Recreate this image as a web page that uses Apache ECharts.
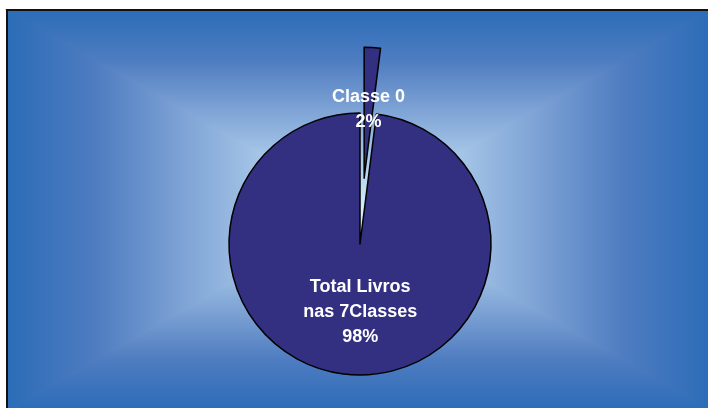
<!DOCTYPE html>
<html>
<head>
<meta charset="utf-8">
<script src="https://cdn.jsdelivr.net/npm/echarts@6/dist/echarts.min.js"></script>
<style>
  html, body { margin: 0; padding: 0; background: #fff; }
  #chart { width: 708px; height: 408px; }
</style>
</head>
<body>
<div id="chart"></div>
<script>
// dados
var categorias = ['Classe 0', 'Total Livros\nnas 7Classes'];
var valores = [2, 98];

var chart = echarts.init(document.getElementById('chart'));

// fundo: gradiente retangular (4 triângulos até ao centro)
var L = 7, T = 10, R = 712, B = 410, cx = (L + R) / 2, cy = (T + B) / 2;
function grad(x, y, x2, y2) {
	return new echarts.graphic.LinearGradient(x, y, x2, y2, [
		{ offset: 0, color: '#2b6cb8' },
		{ offset: 0.25, color: '#4e7cc0' },
		{ offset: 0.5, color: '#7ea3d5' },
		{ offset: 0.75, color: '#abcbea' },
		{ offset: 1, color: '#d4eefa' }
	]);
}
function tri(pts, g) {
	return { type: 'polygon', shape: { points: pts }, style: { fill: g, stroke: g, lineWidth: 1.2 }, silent: true, z: -9 };
}
var fundo = [
	tri([[L, T], [R, T], [cx, cy]], grad(0, 0, 0, 1)),
	tri([[L, B], [R, B], [cx, cy]], grad(0, 1, 0, 0)),
	tri([[L, T], [L, B], [cx, cy]], grad(0, 0, 1, 0)),
	tri([[R, T], [R, B], [cx, cy]], grad(1, 0, 0, 0)),
	{ type: 'rect', shape: { x: L, y: T, width: R - L, height: B - T }, style: { fill: null, stroke: '#111', lineWidth: 2 }, silent: true, z: -8 }
];

var dados = categorias.map(function (c, i) {
	return {
		name: c, value: valores[i], selected: i == 0,
		label: i == 1 ? { padding: [0, 0, 0, 9] } : {}
	};
});

var option = {
	animation: false,
	backgroundColor: '#fff',
	graphic: fundo,
	series: [{
		type: 'pie',
		center: [360, 244],
		radius: 131,
		startAngle: 90,
		clockwise: true,
		selectedMode: 'single',
		selectedOffset: 66,
		avoidLabelOverlap: false,
		itemStyle: {
			color: '#333082',
			borderColor: '#000',
			borderWidth: 1.5
		},
		label: {
			show: true,
			position: 'inside',
			formatter: '{b}\n{d}%',
			color: '#fff',
			fontFamily: 'Liberation Sans, Arial, sans-serif',
			fontWeight: 'bold',
			fontSize: 18,
			lineHeight: 25
		},
		labelLine: { show: false },
		emphasis: { disabled: true },
		data: dados
	}]
};
chart.setOption(option);
</script>
</body>
</html>
